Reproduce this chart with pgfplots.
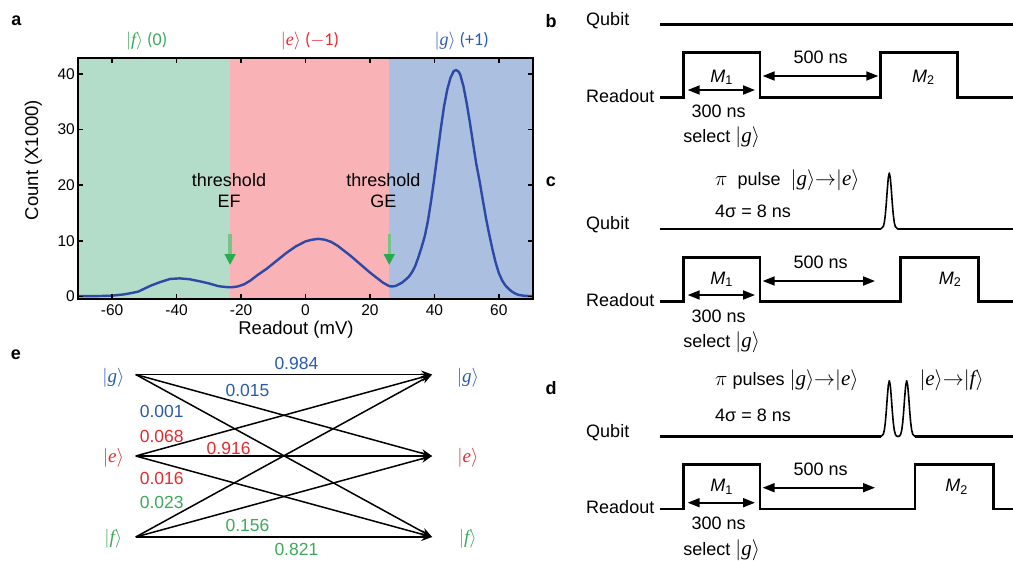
\RequirePackage{fix-cm}
\documentclass[border=0pt]{standalone}
\usepackage{pgfplots}
\pgfplotsset{compat=1.18}
\usepackage{pgfplotstable}
\usepackage{fontspec}
\setmainfont{Liberation Sans}
\newfontfamily\calfont{Carlito}
\newfontfamily\serif{Liberation Serif}
\usetikzlibrary{arrows.meta}

\definecolor{fbg}{RGB}{179,221,201}
\definecolor{ebg}{RGB}{249,178,182}
\definecolor{gbg}{RGB}{171,192,224}
\definecolor{curve}{RGB}{45,72,165}
\definecolor{fgreen}{RGB}{60,170,90}
\definecolor{ered}{RGB}{235,40,45}
\definecolor{gblue}{RGB}{40,90,175}
\definecolor{headgreen}{RGB}{40,170,80}
\definecolor{shaftgreen}{RGB}{120,195,135}

\newcommand{\fs}[1]{\fontsize{#1}{#1}\selectfont}
% tall ket (panels b-d) and plain ket (panels a, e)
\newcommand{\ket}[1]{{\fs{21}\ensuremath{\left|\mbox{\serif\itshape #1}\right\rangle}}}
\newcommand{\sket}[1]{\ensuremath{|\mbox{\serif\itshape #1}\rangle}}

% readout histogram (count x1000 vs readout in mV)
\pgfplotstableread{
x y
-70.5 0.05
-65 0.06
-60 0.15
-56 0.4
-52 0.85
-48 1.95
-45 2.6
-42 3.15
-39 3.25
-36 3.1
-33 2.75
-30 2.35
-27 1.85
-24.5 1.68
-23 1.65
-21 1.8
-19 2.2
-17 2.9
-15 3.8
-12 5.0
-9 6.4
-6 7.8
-3 9.0
0 9.9
2 10.2
4 10.35
6 10.2
8 9.8
10 9.1
12 8.2
14 7.3
16 6.3
18 5.3
20 4.3
22 3.4
24 2.5
26 1.85
27 1.8
28 1.9
30 2.5
32 3.5
33 4.3
34 5.4
35 7.0
36 8.8
37 10.8
38 13.6
39 17.3
40 21.4
41 25.8
42 30.2
43 34.2
44 37.2
45 39.3
46 40.5
46.7 40.7
47.5 40.4
48 39.9
49 37.8
50 34.8
51 31.3
52 27.5
53 23.8
54 20.8
55 17.4
56 14.1
57 11.2
58 8.5
59 6.1
60 4.2
61 2.9
62 2.0
63 1.4
64 0.9
65 0.55
66 0.3
67 0.2
68 0.12
70.5 0.05
}\histdata

\begin{document}
\begin{tikzpicture}
\useasboundingbox (0pt,0pt) rectangle (1013pt,-561pt);

% ---------------- panel a ----------------
\begin{axis}[
  at={(78.3pt,-298.7pt)}, anchor=south west,
  scale only axis, width=454.4pt, height=240.4pt,
  xmin=-70.5, xmax=70.5, ymin=-0.4, ymax=42.8,
  xtick={-60,-40,-20,0,20,40,60}, ytick={0,10,20,30,40},
  tick align=inside, major tick length=4.5pt,
  axis line style={line width=1.8pt},
  every tick/.style={black, line width=1.5pt},
  ticklabel style={font=\fs{15.5}},
  /pgf/number format/assume math mode=true,
  xticklabel style={yshift=-2pt},
  xlabel={Readout (mV)}, ylabel={Count (X1000)},
  label style={font=\fs{18.5}},
  xlabel style={at={(axis description cs:0.479,-0.13)}, anchor=center},
  ylabel style={at={(axis description cs:-0.099,0.577)}, anchor=center},
  axis on top,
]
\addplot[draw=none, fill=fbg] coordinates {(-72,-1) (-23.4,-1) (-23.4,44) (-72,44)} -- cycle;
\addplot[draw=none, fill=ebg] coordinates {(-23.4,-1) (26,-1) (26,44) (-23.4,44)} -- cycle;
\addplot[draw=none, fill=gbg] coordinates {(26,-1) (72,-1) (72,44) (26,44)} -- cycle;
\addplot[curve, line width=2.4pt, line join=round] table[x=x, y=y] {\histdata};
% threshold arrows
\addplot[shaftgreen, line width=3.5pt] coordinates {(-23.4,11.3) (-23.4,7.4)};
\addplot[draw=none, fill=headgreen] coordinates {(-25.15,7.6) (-21.65,7.6) (-23.4,5.7)} -- cycle;
\addplot[shaftgreen, line width=3.5pt] coordinates {(26,11.3) (26,7.4)};
\addplot[draw=none, fill=headgreen] coordinates {(24.25,7.6) (27.75,7.6) (26,5.7)} -- cycle;
\end{axis}

% ---------------- panels b-e on a pixel grid ----------------
\begin{axis}[
  at={(0pt,-561pt)}, anchor=south west,
  scale only axis, width=1013pt, height=561pt,
  xmin=0, xmax=1013, ymin=0, ymax=561, y dir=reverse,
  hide axis, clip=false,
  wave/.style={black, line width=2.8pt, line join=miter},
  pulse/.style={black, line width=1.6pt, line join=round},
  dbl/.style={black, line width=1.8pt,
    {Triangle[length=12pt,width=9pt]}-{Triangle[length=12pt,width=9pt]}},
  tr/.style={black, line width=1.5pt, -{Stealth[length=11pt,width=8pt]}},
]
% panel labels and panel a texts
\node[font=\fs{18}\bfseries] at (axis cs:16.5,20.7) {a};
\node[font=\fs{18}\bfseries] at (axis cs:551,20.7) {b};
\node[font=\fs{18}\bfseries] at (axis cs:551,182) {c};
\node[font=\fs{18}\bfseries] at (axis cs:551,388) {d};
\node[font=\fs{18}\bfseries] at (axis cs:16,355) {e};
\node[font=\fs{18}\calfont, text=fgreen] at (axis cs:146.7,40.7) {\sket{f} (0)};
\node[font=\fs{18}\calfont, text=ered] at (axis cs:310,40.7) {\sket{e} ($-$1)};
\node[font=\fs{18}\calfont, text=gblue] at (axis cs:461.7,40.7) {\sket{g} (+1)};
\node[font=\fs{18}] at (axis cs:229,180) {threshold};
\node[font=\fs{18}] at (axis cs:229,201.7) {EF};
\node[font=\fs{18}] at (axis cs:383.3,180) {threshold};
\node[font=\fs{18}] at (axis cs:383.3,201.7) {GE};

% panel b
\addplot[wave] coordinates {(660,24.3) (1013,24.3)};
\addplot[wave] coordinates {(660,97.7) (683.3,97.7) (683.3,52.7) (760,52.7) (760,97.7)
  (880.7,97.7) (880.7,52.7) (957.7,52.7) (957.7,97.7) (1013,97.7)};
\addplot[dbl] coordinates {(687.7,90) (755,90)};
\addplot[dbl] coordinates {(762.7,76) (878.3,76)};
\node[font=\fs{18}, anchor=west] at (axis cs:582.7,21) {Qubit};
\node[font=\fs{18}, anchor=west] at (axis cs:582.7,96) {Readout};
\node[font=\fs{18}] at (axis cs:721.7,77.3) {\textit{M}\textsubscript{1}};
\node[font=\fs{18}] at (axis cs:923.3,77.3) {\textit{M}\textsubscript{2}};
\node[font=\fs{18}] at (axis cs:718.7,111.7) {300 ns};
\node[font=\fs{18}] at (axis cs:721.7,137.3) {select \ket{g}};
\node[font=\fs{18}] at (axis cs:820.7,57.3) {500 ns};

% panel c
\addplot[pulse] coordinates {(660,229) (880.8,229) (883.3,226.5) (884.3,222.6) (885.3,215)
  (886.3,203.4) (887.3,189.4) (888.3,177.7) (889.3,173) (890.3,177.7) (891.3,189.4)
  (892.3,203.4) (893.3,215) (894.3,222.6) (895.3,226.5) (897.8,229) (1013,229)};
\addplot[wave] coordinates {(660,229) (880.8,229)};
\addplot[wave] coordinates {(897.8,229) (1013,229)};
\addplot[wave] coordinates {(660,301.7) (683.3,301.7) (683.3,257.3) (760,257.3) (760,301.7)
  (900.7,301.7) (900.7,257.3) (978.3,257.3) (978.3,301.7) (1013,301.7)};
\addplot[dbl] coordinates {(687.7,295) (755,295)};
\addplot[dbl] coordinates {(762.7,281) (875,281)};
\node[font=\fs{18}, anchor=west] at (axis cs:711.7,180.7) {{\fs{21}$\pi$}\ \ pulse\ \ \ket{g}{\fs{21}$\rightarrow$}\ket{e}};
\node[font=\fs{18}, anchor=west] at (axis cs:711.7,211) {4σ = 8 ns};
\node[font=\fs{18}, anchor=west] at (axis cs:582.7,225) {Qubit};
\node[font=\fs{18}, anchor=west] at (axis cs:582.7,300.5) {Readout};
\node[font=\fs{18}] at (axis cs:721.7,279.3) {\textit{M}\textsubscript{1}};
\node[font=\fs{18}] at (axis cs:950,279.3) {\textit{M}\textsubscript{2}};
\node[font=\fs{18}] at (axis cs:718.7,316.7) {300 ns};
\node[font=\fs{18}] at (axis cs:721.7,342.7) {select \ket{g}};
\node[font=\fs{18}] at (axis cs:820.7,262.7) {500 ns};

% panel d
\addplot[pulse] coordinates {(660,436.7) (880.8,436.7) (883.3,434.2) (884.3,430.3) (885.3,422.7)
  (886.3,411.1) (887.3,397.1) (888.3,385.4) (889.3,380.7) (890.3,385.4) (891.3,397.1)
  (892.3,411.1) (893.3,422.7) (894.3,430.3) (895.3,434.2) (896.3,435.9) (898,436.5)
  (899.7,435.9) (900.7,434.2) (901.7,430.3) (902.7,422.7) (903.7,411.1) (904.7,397.1)
  (905.7,385.4) (906.7,380.7) (907.7,385.4) (908.7,397.1) (909.7,411.1) (910.7,422.7)
  (911.7,430.3) (912.7,434.2) (915.2,436.7) (1013,436.7)};
\addplot[wave] coordinates {(660,436.7) (880.8,436.7)};
\addplot[wave] coordinates {(915.2,436.7) (1013,436.7)};
\addplot[wave] coordinates {(660,509) (683.3,509) (683.3,464.3) (760,464.3) (760,509)
  (915,509) (915,464.3) (993.3,464.3) (993.3,509) (1013,509)};
\addplot[dbl] coordinates {(687.7,502.7) (755,502.7)};
\addplot[dbl] coordinates {(762.7,487.7) (875,487.7)};
\node[font=\fs{18}, anchor=west] at (axis cs:711.7,380.7) {{\fs{21}$\pi$}\ pulses \ket{g}{\fs{21}$\rightarrow$}\ket{e}};
\node[font=\fs{18}, anchor=west] at (axis cs:916,380.7) {\ket{e}{\fs{21}$\rightarrow$}\ket{f}};
\node[font=\fs{18}, anchor=west] at (axis cs:711.7,415) {4σ = 8 ns};
\node[font=\fs{18}, anchor=west] at (axis cs:582.7,432.5) {Qubit};
\node[font=\fs{18}, anchor=west] at (axis cs:582.7,507.5) {Readout};
\node[font=\fs{18}] at (axis cs:721.7,486.7) {\textit{M}\textsubscript{1}};
\node[font=\fs{18}] at (axis cs:956.7,486.7) {\textit{M}\textsubscript{2}};
\node[font=\fs{18}] at (axis cs:718.7,523.3) {300 ns};
\node[font=\fs{18}] at (axis cs:721.7,550.7) {select \ket{g}};
\node[font=\fs{18}] at (axis cs:820.7,469.3) {500 ns};

% panel e
\addplot[tr] coordinates {(135.7,374.5) (432.1,374.5)};
\addplot[tr] coordinates {(135.7,374.5) (432.1,456)};
\addplot[tr] coordinates {(135.7,374.5) (432.1,537)};
\addplot[tr] coordinates {(135.7,456) (432.1,374.5)};
\addplot[tr] coordinates {(135.7,456) (432.1,456)};
\addplot[tr] coordinates {(135.7,456) (432.1,537)};
\addplot[tr] coordinates {(135.7,537) (432.1,374.5)};
\addplot[tr] coordinates {(135.7,537) (432.1,456)};
\addplot[tr] coordinates {(135.7,537) (432.1,537)};
\node[font=\fs{19}, text=gblue] at (axis cs:113.4,377.3) {\sket{g}};
\node[font=\fs{19}, text=ered] at (axis cs:113.4,457.3) {\sket{e}};
\node[font=\fs{19}, text=fgreen] at (axis cs:113.4,538.3) {\sket{f}};
\node[font=\fs{19}, text=gblue] at (axis cs:467.9,377.3) {\sket{g}};
\node[font=\fs{19}, text=ered] at (axis cs:467.9,457.3) {\sket{e}};
\node[font=\fs{19}, text=fgreen] at (axis cs:467.9,538.3) {\sket{f}};
\node[font=\fs{17.5}, text=gblue] at (axis cs:296.4,363.3) {0.984};
\node[font=\fs{17.5}, text=gblue] at (axis cs:247.5,390) {0.015};
\node[font=\fs{17.5}, text=gblue] at (axis cs:161.8,411) {0.001};
\node[font=\fs{17.5}, text=ered] at (axis cs:161.8,436.7) {0.068};
\node[font=\fs{17.5}, text=ered] at (axis cs:228.6,448.3) {0.916};
\node[font=\fs{17.5}, text=ered] at (axis cs:161.8,478.3) {0.016};
\node[font=\fs{17.5}, text=fgreen] at (axis cs:161.8,502.3) {0.023};
\node[font=\fs{17.5}, text=fgreen] at (axis cs:247.5,525) {0.156};
\node[font=\fs{17.5}, text=fgreen] at (axis cs:296.4,549.3) {0.821};
\end{axis}
\end{tikzpicture}
\end{document}
